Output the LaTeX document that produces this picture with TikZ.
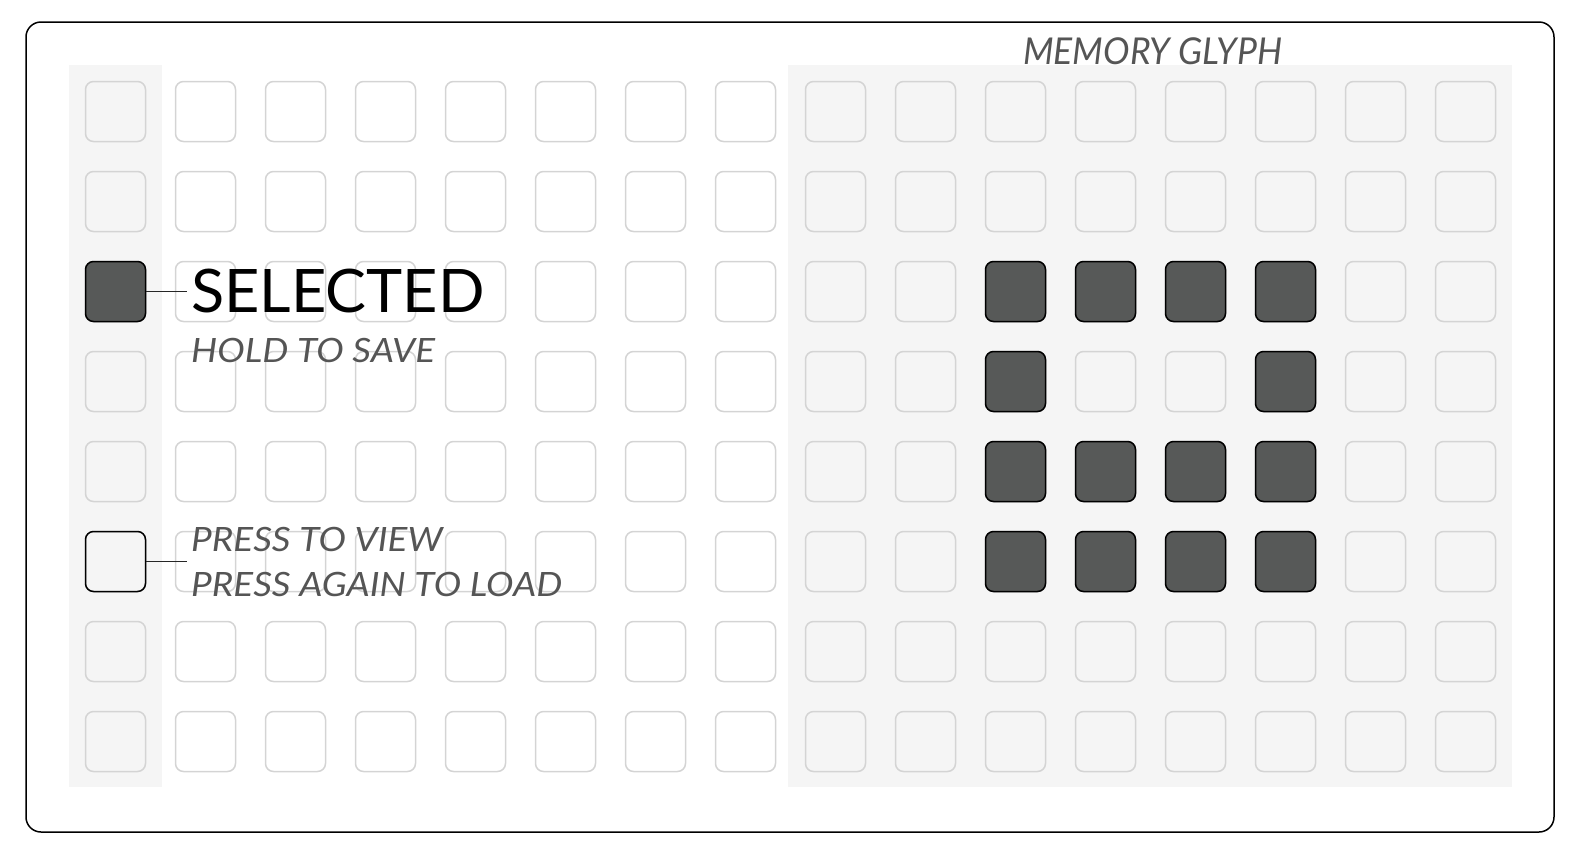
\documentclass[tikz,border=0pt]{standalone}
\usepackage{fontspec}
\setmainfont{Lato}
\definecolor{bandgray}{HTML}{F5F5F5}
\definecolor{cellgray}{HTML}{D4D4D4}
\definecolor{darkcell}{HTML}{575958}
\definecolor{textgray}{HTML}{555555}
\begin{document}
\begin{tikzpicture}[x=1pt,y=-1pt,
  cellbox/.style={rectangle, draw=cellgray, line width=1.5pt, rounded corners=8pt, minimum size=60pt, inner sep=0pt},
  darkbox/.style={rectangle, draw=black, fill=darkcell, line width=1.5pt, rounded corners=8pt, minimum size=60pt, inner sep=0pt},
  viewbox/.style={rectangle, draw=black, line width=1.5pt, rounded corners=8pt, minimum size=60pt, inner sep=0pt},
  conn/.style={draw=black!85, line width=1pt},
  bigtxt/.style={anchor=base west, inner sep=0pt, xscale=1.02, font=\fontsize{60}{60}\selectfont},
  subtxt/.style={anchor=base west, inner sep=0pt, xscale=1.1, text=textgray, font=\fontsize{33.5}{33.5}\selectfont\itshape}
]
\useasboundingbox (0,0) rectangle (1580,855);
\fill[bandgray] (69,65) rectangle (162,787);
\fill[bandgray] (788,65) rectangle (1512,787);
\draw[line width=1.5pt, rounded corners=15pt] (26,22) rectangle (1554,832);
\foreach \i in {0,...,15} {
  \foreach \j in {0,...,7} {
    \node[cellbox] (c-\i-\j) at ({115.5+90*\i},{111.5+90*\j}) {};
  }
}
% selected / view cells
\node[darkbox] (sel) at (c-0-2) {};
\node[viewbox] (view) at (c-0-5) {};
% glyph
\foreach \i/\j in {10/2,11/2,12/2,13/2,10/3,13/3,10/4,11/4,12/4,13/4,10/5,11/5,12/5,13/5} {
  \node[darkbox] (g-\i-\j) at (c-\i-\j) {};
}
% labels
\node[bigtxt] (seltxt) at (191,312.7) {SELECTED};
\node[subtxt] (holdtxt) at (191,362.5) {HOLD TO SAVE};
\node[subtxt] (viewtxt) at (191,551.5) {PRESS TO VIEW};
\node[subtxt] (loadtxt) at (191,596) {PRESS AGAIN TO LOAD};
\node[subtxt, xscale=0.96/1.1, font=\fontsize{37}{37}\selectfont\itshape] (memtxt) at (1023,64.6) {MEMORY GLYPH};
% connectors
\coordinate (selend) at (186.7,291.5);
\coordinate (viewend) at (186.7,561.5);
\draw[conn] (sel.east) -- (selend);
\draw[conn] (view.east) -- (viewend);
\end{tikzpicture}
\end{document}
